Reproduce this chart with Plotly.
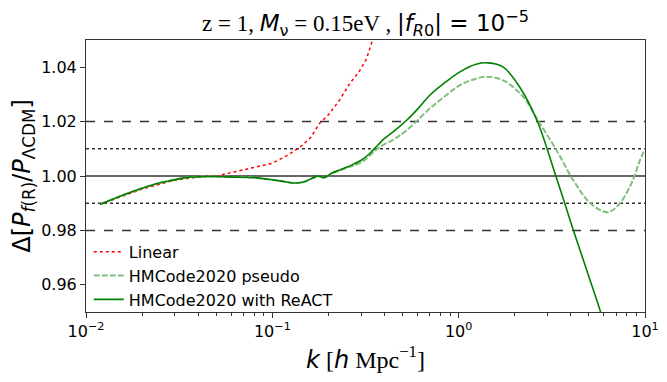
import plotly.graph_objects as go

# Ratio data (k in h/Mpc)
k_linear = [0.0119, 0.02, 0.03, 0.04, 0.05, 0.065, 0.08, 0.1, 0.12, 0.14, 0.16,
            0.18, 0.2, 0.23, 0.26, 0.29, 0.32, 0.345]
r_linear = [0.9896, 0.9952, 0.9985, 0.9996, 1.0, 1.0018, 1.003, 1.0047, 1.0075,
            1.0105, 1.014, 1.0195, 1.0225, 1.028, 1.034, 1.038, 1.043, 1.05]

k_pseudo = [0.0119, 0.015, 0.02, 0.025, 0.029, 0.034, 0.045, 0.063, 0.08, 0.095,
            0.11, 0.132, 0.15, 0.165, 0.177, 0.19, 0.21, 0.25, 0.3, 0.378, 0.45,
            0.526, 0.7, 0.85, 1.016, 1.2, 1.41, 1.73, 2.22, 2.63, 3.35, 4.13,
            5.12, 6.3, 7.3, 8.6, 9.3, 10.0]
r_pseudo = [0.9896, 0.9924, 0.9955, 0.9975, 0.9984, 0.9994, 0.9998, 0.9996,
            0.9994, 0.9988, 0.9982, 0.9974, 0.998, 0.9992, 0.9998, 0.9994, 1.001,
            1.003, 1.005, 1.0107, 1.0135, 1.0168, 1.0248, 1.0295, 1.0334, 1.0355,
            1.0365, 1.0352, 1.0291, 1.0211, 1.0095, 0.9984, 0.9898, 0.9867,
            0.9898, 0.9984, 1.005, 1.01]

k_react = [0.0119, 0.015, 0.02, 0.025, 0.029, 0.034, 0.045, 0.063, 0.08, 0.095,
           0.11, 0.132, 0.15, 0.165, 0.177, 0.19, 0.21, 0.226, 0.25, 0.266, 0.3,
           0.33, 0.37, 0.40, 0.45, 0.526, 0.6, 0.70, 0.85, 1.016, 1.24, 1.44,
           1.73, 2.12, 2.63, 3.29, 4.13, 5.0, 5.74, 6.0]
r_react = [0.9896, 0.9924, 0.9955, 0.9975, 0.9984, 0.9994, 0.9998, 0.9996,
           0.9994, 0.9988, 0.9982, 0.9974, 0.998, 0.9993, 1.0, 0.9994, 1.0012,
           1.002, 1.0032, 1.004, 1.0058, 1.008, 1.0115, 1.0138, 1.0165, 1.0205,
           1.0245, 1.0297, 1.0345, 1.0383, 1.0411, 1.0416, 1.0401, 1.0328,
           1.0205, 1.0009, 0.98, 0.963, 0.9506, 0.946]

# reference levels: (value, dash)
ref_levels = [(1.0, "solid"), (1.02, "dash"), (0.98, "dash"),
              (1.01, "dot"), (0.99, "dot")]

xtick_vals = [0.01, 0.1, 1, 10]
xtick_text = ["10<sup>−2</sup>", "10<sup>−1</sup>", "10<sup>0</sup>", "10<sup>1</sup>"]
ytick_vals = [0.96, 0.98, 1.00, 1.02, 1.04]

SERIF = "Liberation Serif"
SANS = "DejaVu Sans"

fig = go.Figure()

for val, dash in ref_levels:
    fig.add_hline(y=val, line=dict(color="#333333", width=1.5, dash=dash), layer="below")

fig.add_trace(go.Scatter(x=k_linear, y=r_linear, mode="lines", name="Linear",
                         line=dict(color="red", width=1.5, dash="dot")))
fig.add_trace(go.Scatter(x=k_pseudo, y=r_pseudo, mode="lines", name="HMCode2020 pseudo",
                         line=dict(color="#80bf80", width=2, dash="6px,2px", shape="spline")))
fig.add_trace(go.Scatter(x=k_react, y=r_react, mode="lines", name="HMCode2020 with ReACT",
                         line=dict(color="green", width=1.6, shape="spline")))

title = (f'<span style="font-family:{SERIF}">z = 1, </span><i>M</i><sub>ν</sub>'
         f'<span style="font-family:{SERIF}"> = 0.15eV , </span>|<i>f</i><sub><i>R</i>0</sub>| = 10<sup>−5</sup>')
xlabel = (f'<i>k</i><span style="font-family:{SERIF}"> [</span><i>h</i>'
          f'<span style="font-family:{SERIF}"> Mpc<sup>−1</sup>]</span>')
ylabel = "Δ[<i>P</i><sub><i>f</i>(R)</sub>/<i>P</i><sub>ΛCDM</sub>]"

# the page body adds an 8px margin, so the figure is sized to fit inside it
fig.update_layout(
    width=651, height=366,
    margin=dict(l=78, r=14, t=32, b=62),
    plot_bgcolor="white", paper_bgcolor="white",
    font=dict(family=SANS, size=16, color="black"),
    title=dict(text=title, x=0.5, xref="paper", y=0.958, yref="container",
               xanchor="center", yanchor="middle", font=dict(size=23)),
    showlegend=True,
    legend=dict(x=0.005, y=-0.018, xanchor="left", yanchor="bottom",
                bgcolor="rgba(0,0,0,0)", font=dict(size=16), tracegroupgap=0),
)
fig.update_xaxes(type="log", range=[-2, 1], tickvals=xtick_vals, ticktext=xtick_text,
                 ticks="outside", ticklen=5, tickcolor="#333", showgrid=False,
                 showline=True, linecolor="#333", mirror=True, linewidth=1,
                 minor=dict(ticks="outside", ticklen=3, dtick="D1", tickcolor="#333", showgrid=False),
                 title=dict(text=xlabel, font=dict(size=24), standoff=10),
                 tickfont=dict(size=16), zeroline=False, automargin=False)
fig.update_yaxes(range=[0.95, 1.05], tickvals=ytick_vals, tickformat=".2f",
                 ticks="outside", ticklen=5, tickcolor="#333", showgrid=False,
                 showline=True, linecolor="#333", mirror=True, linewidth=1,
                 title=dict(text=ylabel, font=dict(size=24), standoff=8),
                 tickfont=dict(size=16), zeroline=False, automargin=False)

fig.write_html("out.html")
